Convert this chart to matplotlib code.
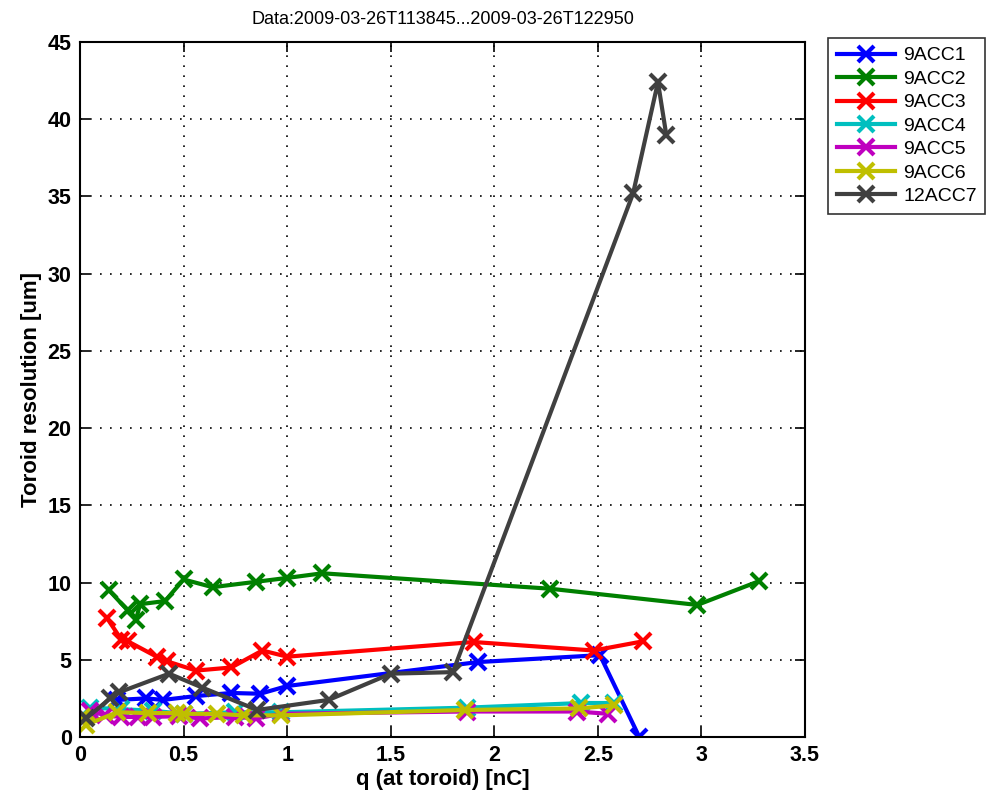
import numpy as np
import matplotlib
matplotlib.use('Agg')
import matplotlib.pyplot as plt

plt.rcParams['font.family'] = ['Liberation Sans', 'DejaVu Sans']

# data
q_acc1 = [0.18, 0.32, 0.40, 0.56, 0.73, 0.87, 1.00, 1.92, 2.51, 2.70]
r_acc1 = [2.4, 2.5, 2.4, 2.65, 2.85, 2.8, 3.3, 4.85, 5.3, 0.0]

q_acc2 = [0.14, 0.23, 0.27, 0.29, 0.41, 0.50, 0.64, 0.85, 1.00, 1.17, 2.27, 2.98, 3.28]
r_acc2 = [9.5, 8.2, 7.6, 8.6, 8.8, 10.2, 9.7, 10.05, 10.3, 10.6, 9.6, 8.55, 10.1]

q_acc3 = [0.13, 0.20, 0.23, 0.37, 0.42, 0.56, 0.73, 0.88, 1.00, 1.90, 2.48, 2.72]
r_acc3 = [7.7, 6.3, 6.2, 5.2, 4.9, 4.3, 4.5, 5.6, 5.2, 6.15, 5.6, 6.2]

q_acc4 = [0.05, 0.20, 0.35, 0.50, 0.75, 0.97, 1.87, 2.42, 2.58]
r_acc4 = [1.9, 1.8, 1.7, 1.5, 1.6, 1.6, 1.9, 2.2, 2.2]

q_acc5 = [0.05, 0.12, 0.20, 0.28, 0.35, 0.48, 0.58, 0.75, 0.85, 0.97, 1.87, 2.40, 2.55]
r_acc5 = [1.7, 1.4, 1.3, 1.3, 1.3, 1.35, 1.2, 1.3, 1.2, 1.5, 1.65, 1.65, 1.5]

q_acc6 = [0.01, 0.03, 0.18, 0.33, 0.47, 0.50, 0.66, 0.79, 0.97, 1.86, 2.41, 2.58]
r_acc6 = [1.3, 0.8, 1.6, 1.55, 1.55, 1.5, 1.5, 1.4, 1.4, 1.75, 1.85, 2.05]

q_acc7 = [0.03, 0.145, 0.19, 0.43, 0.59, 0.855, 1.20, 1.50, 1.80, 2.67, 2.79, 2.83]
r_acc7 = [1.2, 2.5, 2.9, 4.1, 3.2, 1.75, 2.4, 4.1, 4.2, 35.2, 42.4, 39.0]

names = ['9ACC1', '9ACC2', '9ACC3', '9ACC4', '9ACC5', '9ACC6', '12ACC7']
colors_list = [(0, 0, 1), (0, 0.5, 0), (1, 0, 0), (0, 0.75, 0.75),
               (0.75, 0, 0.75), (0.75, 0.75, 0), (0.25, 0.25, 0.25)]

series = [(q_acc1, r_acc1), (q_acc2, r_acc2), (q_acc3, r_acc3), (q_acc4, r_acc4),
          (q_acc5, r_acc5), (q_acc6, r_acc6), (q_acc7, r_acc7)]

fig = plt.figure(figsize=(9.93, 7.94), dpi=100)
ax = fig.add_axes([0.0806, 0.0718, 0.7301, 0.8753])

for i in range(len(series)):
	q, r = series[i]
	ax.plot(q, r, color=colors_list[i], lw=3, marker='x', ms=11, mew=3, label=names[i])

ax.set_xlim(0, 3.5)
ax.set_ylim(0, 45)
ax.set_xticks(np.arange(0, 3.51, 0.5))
ax.set_xticklabels(['0', '0.5', '1', '1.5', '2', '2.5', '3', '3.5'])
ax.set_yticks(np.arange(0, 46, 5))
ax.grid(True, color='black', linestyle=(0, (1, 5)), linewidth=1.2)
ax.tick_params(direction='in', length=7, width=1.2, top=True, right=True,
	labelsize=15.5, pad=6)
for lab in ax.get_xticklabels() + ax.get_yticklabels():
	lab.set_fontweight('bold')
for s in ax.spines.values():
	s.set_linewidth(1.5)

ax.set_xlabel('q (at toroid) [nC]', fontsize=16, fontweight='bold', labelpad=2)
ax.set_ylabel('Toroid resolution [um]', fontsize=16, fontweight='bold', labelpad=4)
ax.set_title('Data:2009-03-26T113845...2009-03-26T122950', fontsize=13, pad=13)

leg = fig.legend(loc='upper left', bbox_to_anchor=(0.834, 0.952), fontsize=14,
	frameon=True, fancybox=False, handlelength=3.0, borderpad=0.45,
	labelspacing=0.3, handletextpad=0.4, borderaxespad=0)
leg.get_frame().set_edgecolor('black')
leg.get_frame().set_linewidth(1.2)

plt.savefig('out.png', dpi=100)
